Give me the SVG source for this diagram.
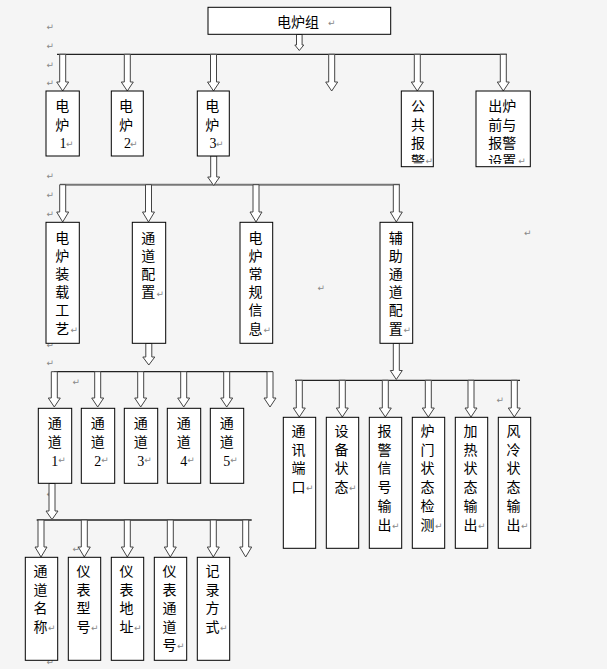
<svg xmlns="http://www.w3.org/2000/svg" width="607" height="669" viewBox="0 0 607 669">
<style>
.bg{fill:#f5f5f5}
.box{fill:#fff;stroke:#000;stroke-width:1}
.t{font-family:"Noto Sans CJK SC","Noto Sans CJK JP",sans-serif;font-size:14px;fill:#000;text-anchor:middle}
.ts{font-family:"Noto Sans CJK SC","Noto Sans CJK JP",sans-serif;font-size:14px;fill:#000}
.d{font-family:"Liberation Serif",serif;font-size:14px;fill:#000}
.pm{font-family:"DejaVu Sans",sans-serif;font-size:9px;fill:#888}
.arr{fill:#fff;stroke:#444;stroke-width:1}
.ln{stroke:#222;stroke-width:1.3;fill:none}
.ln2{stroke:#777;stroke-width:2;fill:none}
</style>
<defs>
<clipPath id="clipTop"><rect x="400" y="90" width="135" height="74"/></clipPath>
</defs>
<rect class="bg" x="0" y="0" width="607" height="669"/>

<g id="marks">
<text class="pm" x="46.5" y="30">↵</text>
<text class="pm" x="46.5" y="48.5">↵</text>
<text class="pm" x="46.5" y="67.5">↵</text>
<text class="pm" x="46.5" y="86">↵</text>
<text class="pm" x="46.5" y="179.3">↵</text>
<text class="pm" x="46.5" y="197.7">↵</text>
<text class="pm" x="46.5" y="216.7">↵</text>
<text class="pm" x="46.5" y="348">↵</text>
<text class="pm" x="46.5" y="365.7">↵</text>
<text class="pm" x="72.5" y="384.7">↵</text>
<text class="pm" x="46.5" y="497">↵</text>
<text class="pm" x="72.5" y="552">↵</text>
<text class="pm" x="46.5" y="665">↵</text>
<text class="pm" x="317.5" y="291.3">↵</text>
<text class="pm" x="524" y="235.5">↵</text>
<text class="pm" x="496.5" y="403">↵</text>
<text class="pm" x="141.5" y="321.8">↵</text>
</g>

<g id="connectors">
<line class="ln" x1="57" y1="54.3" x2="507" y2="54.3"/>
<line class="ln2" x1="60" y1="184.7" x2="400" y2="184.7"/>
<line class="ln" x1="54" y1="371.7" x2="273" y2="371.7"/>
<line class="ln" x1="295" y1="380.3" x2="520" y2="380.3"/>
<line class="ln" x1="36.7" y1="520" x2="251.7" y2="520"/>

<path class="arr" d="M296.5 34.5V45H294.8L299.3 50.5L303.8 45H302.1V34.5Z"/>

<path class="arr" d="M59.7 54.3V82H56.7L62.7 91L68.7 82H65.7V54.3Z"/>
<path class="arr" d="M124.3 54.3V82H121.3L127.3 91L133.3 82H130.3V54.3Z"/>
<path class="arr" d="M210.5 54.3V82H207.5L213.5 91L219.5 82H216.5V54.3Z"/>
<path class="arr" d="M328.7 54.3V82H325.7L331.7 91L337.7 82H334.7V54.3Z"/>
<path class="arr" d="M414.3 54.3V82H411.3L417.3 91L423.3 82H420.3V54.3Z"/>
<path class="arr" d="M500.3 54.3V82H497.3L503.3 91L509.3 82H506.3V54.3Z"/>

<path class="arr" d="M210.7 156V177H207.7L213.7 185.5L219.7 177H216.7V156Z"/>

<path class="arr" d="M59.7 184.7V212H56.7L62.7 222L68.7 212H65.7V184.7Z"/>
<path class="arr" d="M145.5 184.7V212H142.5L148.5 222L154.5 212H151.5V184.7Z"/>
<path class="arr" d="M253 184.7V212H250L256 222L262 212H259V184.7Z"/>
<path class="arr" d="M393.3 184.7V212H390.3L396.3 222L402.3 212H399.3V184.7Z"/>

<path class="arr" d="M145.8 343.3V357H142.8L148.8 365L154.8 357H151.8V343.3Z"/>

<path class="arr" d="M51.3 371.7V398H48.3L54.3 407L60.3 398H57.3V371.7Z"/>
<path class="arr" d="M94.7 371.7V398H91.7L97.7 407L103.7 398H100.7V371.7Z"/>
<path class="arr" d="M137.7 371.7V398H134.7L140.7 407L146.7 398H143.7V371.7Z"/>
<path class="arr" d="M180.7 371.7V398H177.7L183.7 407L189.7 398H186.7V371.7Z"/>
<path class="arr" d="M223.7 371.7V398H220.7L226.7 407L232.7 398H229.7V371.7Z"/>
<path class="arr" d="M267 371.7V398H264L270 407L276 398H273V371.7Z"/>

<path class="arr" d="M393.3 343.3V370.5H390.3L396.3 379.5L402.3 370.5H399.3V343.3Z"/>

<path class="arr" d="M296.3 380.3V408H293.3L299.3 417L305.3 408H302.3V380.3Z"/>
<path class="arr" d="M339.3 380.3V408H336.3L342.3 417L348.3 408H345.3V380.3Z"/>
<path class="arr" d="M382.3 380.3V408H379.3L385.3 417L391.3 408H388.3V380.3Z"/>
<path class="arr" d="M425.3 380.3V408H422.3L428.3 417L434.3 408H431.3V380.3Z"/>
<path class="arr" d="M468 380.3V408H465L471 417L477 408H474V380.3Z"/>
<path class="arr" d="M511.3 380.3V408H508.3L514.3 417L520.3 408H517.3V380.3Z"/>

<path class="arr" d="M49 483.5V511H46L52 519.5L58 511H55V483.5Z"/>

<path class="arr" d="M38 520V547H35L41 557L47 547H44V520Z"/>
<path class="arr" d="M81.3 520V547H78.3L84.3 557L90.3 547H87.3V520Z"/>
<path class="arr" d="M124.3 520V547H121.3L127.3 557L133.3 547H130.3V520Z"/>
<path class="arr" d="M167.3 520V547H164.3L170.3 557L176.3 547H173.3V520Z"/>
<path class="arr" d="M210.3 520V547H207.3L213.3 557L219.3 547H216.3V520Z"/>
<path class="arr" d="M242.7 520V547H239.7L245.7 557L251.7 547H248.7V520Z"/>
</g>

<g id="n-group">
<rect class="box" x="208" y="7.3" width="182.7" height="27"/>
<text class="ts" x="277" y="26.7">电炉组</text>
<text class="pm" x="328" y="25.7">↵</text>
</g>

<g id="n-furnace1">
<rect class="box" x="46" y="91" width="33.3" height="65"/>
<text class="t"><tspan x="62.2" y="111.3">电</tspan><tspan x="62.2" y="130">炉</tspan></text>
<text class="d" x="59.5" y="148">1</text>
<text class="pm" x="66" y="146.5">↵</text>
</g>

<g id="n-furnace2">
<rect class="box" x="111.3" y="91" width="32" height="65"/>
<text class="t"><tspan x="126" y="111.3">电</tspan><tspan x="126" y="130">炉</tspan></text>
<text class="d" x="124" y="148">2</text>
<text class="pm" x="130" y="146.5">↵</text>
</g>

<g id="n-furnace3">
<rect class="box" x="197.3" y="91" width="32" height="65"/>
<text class="t"><tspan x="212.3" y="111.3">电</tspan><tspan x="212.3" y="130">炉</tspan></text>
<text class="d" x="209.5" y="148">3</text>
<text class="pm" x="216" y="146.5">↵</text>
</g>

<g id="n-public-alarm">
<rect class="box" x="401.3" y="91" width="32" height="75.7"/>
<g clip-path="url(#clipTop)">
<text class="t"><tspan x="418" y="111.3">公</tspan><tspan x="418" y="129.6">共</tspan><tspan x="418" y="147.9">报</tspan><tspan x="418" y="166.3">警</tspan></text>
<text class="pm" x="425.5" y="164">↵</text>
</g>
</g>

<g id="n-pre-alarm">
<rect class="box" x="476" y="91" width="54.3" height="75.7"/>
<g clip-path="url(#clipTop)">
<text class="ts"><tspan x="488.3" y="111.3">出炉</tspan><tspan x="488.3" y="129.6">前与</tspan><tspan x="488.3" y="147.9">报警</tspan><tspan x="488.3" y="166.3">设置</tspan></text>
<text class="pm" x="518.3" y="164">↵</text>
</g>
</g>

<g id="n-load-process">
<rect class="box" x="46" y="222.3" width="33.3" height="121"/>
<text class="t"><tspan x="62.2" y="243">电</tspan><tspan x="62.2" y="261.1">炉</tspan><tspan x="62.2" y="279.2">装</tspan><tspan x="62.2" y="297.3">载</tspan><tspan x="62.2" y="315.4">工</tspan><tspan x="62.2" y="333.5">艺</tspan></text>
<text class="pm" x="70.5" y="333">↵</text>
</g>

<g id="n-channel-config">
<rect class="box" x="132.3" y="222.3" width="33.4" height="121"/>
<text class="t"><tspan x="148.3" y="243">通</tspan><tspan x="148.3" y="261.1">道</tspan><tspan x="148.3" y="279.2">配</tspan><tspan x="148.3" y="297.3">置</tspan></text>
<text class="pm" x="156.5" y="297">↵</text>
</g>

<g id="n-general-info">
<rect class="box" x="240" y="222.3" width="32.7" height="121"/>
<text class="t"><tspan x="255.5" y="243">电</tspan><tspan x="255.5" y="261.1">炉</tspan><tspan x="255.5" y="279.2">常</tspan><tspan x="255.5" y="297.3">规</tspan><tspan x="255.5" y="315.4">信</tspan><tspan x="255.5" y="333.5">息</tspan></text>
<text class="pm" x="263.5" y="333">↵</text>
</g>

<g id="n-aux-config">
<rect class="box" x="380" y="222.3" width="32.7" height="121"/>
<text class="t"><tspan x="395.8" y="243">辅</tspan><tspan x="395.8" y="261.1">助</tspan><tspan x="395.8" y="279.2">通</tspan><tspan x="395.8" y="297.3">道</tspan><tspan x="395.8" y="315.4">配</tspan><tspan x="395.8" y="333.5">置</tspan></text>
<text class="pm" x="403.5" y="333">↵</text>
</g>

<g id="n-ch1">
<rect class="box" x="38.3" y="408.3" width="33.4" height="75"/>
<text class="t"><tspan x="54.7" y="427.7">通</tspan><tspan x="54.7" y="446.7">道</tspan></text>
<text class="d" x="51.3" y="466">1</text>
<text class="pm" x="58.3" y="463">↵</text>
</g>
<g id="n-ch2">
<rect class="box" x="81.3" y="408.3" width="33.4" height="75"/>
<text class="t"><tspan x="97.7" y="427.7">通</tspan><tspan x="97.7" y="446.7">道</tspan></text>
<text class="d" x="94.2" y="466">2</text>
<text class="pm" x="101.2" y="463">↵</text>
</g>
<g id="n-ch3">
<rect class="box" x="124.3" y="408.3" width="33.4" height="75"/>
<text class="t"><tspan x="140.7" y="427.7">通</tspan><tspan x="140.7" y="446.7">道</tspan></text>
<text class="d" x="137.2" y="466">3</text>
<text class="pm" x="144.2" y="463">↵</text>
</g>
<g id="n-ch4">
<rect class="box" x="167.3" y="408.3" width="33.4" height="75"/>
<text class="t"><tspan x="183.7" y="427.7">通</tspan><tspan x="183.7" y="446.7">道</tspan></text>
<text class="d" x="180.2" y="466">4</text>
<text class="pm" x="187.2" y="463">↵</text>
</g>
<g id="n-ch5">
<rect class="box" x="210.3" y="408.3" width="33.4" height="75"/>
<text class="t"><tspan x="226.7" y="427.7">通</tspan><tspan x="226.7" y="446.7">道</tspan></text>
<text class="d" x="223.2" y="466">5</text>
<text class="pm" x="230.2" y="463">↵</text>
</g>

<g id="n-comm-port">
<rect class="box" x="283.3" y="417.3" width="32.4" height="131"/>
<text class="t"><tspan x="298.5" y="436">通</tspan><tspan x="298.5" y="454.7">讯</tspan><tspan x="298.5" y="473.4">端</tspan><tspan x="298.5" y="492.1">口</tspan></text>
<text class="pm" x="306" y="491">↵</text>
</g>
<g id="n-device-status">
<rect class="box" x="326.3" y="417.3" width="32.4" height="131"/>
<text class="t"><tspan x="341.5" y="436">设</tspan><tspan x="341.5" y="454.7">备</tspan><tspan x="341.5" y="473.4">状</tspan><tspan x="341.5" y="492.1">态</tspan></text>
<text class="pm" x="349" y="491">↵</text>
</g>
<g id="n-alarm-out">
<rect class="box" x="369.3" y="417.3" width="32.4" height="131"/>
<text class="t"><tspan x="384.5" y="436">报</tspan><tspan x="384.5" y="454.7">警</tspan><tspan x="384.5" y="473.4">信</tspan><tspan x="384.5" y="492.1">号</tspan><tspan x="384.5" y="510.8">输</tspan><tspan x="384.5" y="529.5">出</tspan></text>
<text class="pm" x="392" y="529">↵</text>
</g>
<g id="n-door-detect">
<rect class="box" x="412.3" y="417.3" width="32.4" height="131"/>
<text class="t"><tspan x="427.5" y="436">炉</tspan><tspan x="427.5" y="454.7">门</tspan><tspan x="427.5" y="473.4">状</tspan><tspan x="427.5" y="492.1">态</tspan><tspan x="427.5" y="510.8">检</tspan><tspan x="427.5" y="529.5">测</tspan></text>
<text class="pm" x="435" y="529">↵</text>
</g>
<g id="n-heat-out">
<rect class="box" x="455.3" y="417.3" width="32.4" height="131"/>
<text class="t"><tspan x="470.5" y="436">加</tspan><tspan x="470.5" y="454.7">热</tspan><tspan x="470.5" y="473.4">状</tspan><tspan x="470.5" y="492.1">态</tspan><tspan x="470.5" y="510.8">输</tspan><tspan x="470.5" y="529.5">出</tspan></text>
<text class="pm" x="478" y="529">↵</text>
</g>
<g id="n-cool-out">
<rect class="box" x="498.3" y="417.3" width="32.4" height="131"/>
<text class="t"><tspan x="513.5" y="436">风</tspan><tspan x="513.5" y="454.7">冷</tspan><tspan x="513.5" y="473.4">状</tspan><tspan x="513.5" y="492.1">态</tspan><tspan x="513.5" y="510.8">输</tspan><tspan x="513.5" y="529.5">出</tspan></text>
<text class="pm" x="521" y="529">↵</text>
</g>

<g id="n-ch-name">
<rect class="box" x="25.3" y="557.3" width="32.4" height="103"/>
<text class="t"><tspan x="40.5" y="576">通</tspan><tspan x="40.5" y="594.6">道</tspan><tspan x="40.5" y="613.2">名</tspan><tspan x="40.5" y="631.8">称</tspan></text>
<text class="pm" x="48" y="630.5">↵</text>
</g>
<g id="n-meter-model">
<rect class="box" x="68.3" y="557.3" width="32.4" height="103"/>
<text class="t"><tspan x="83.5" y="576">仪</tspan><tspan x="83.5" y="594.6">表</tspan><tspan x="83.5" y="613.2">型</tspan><tspan x="83.5" y="631.8">号</tspan></text>
<text class="pm" x="91" y="630.5">↵</text>
</g>
<g id="n-meter-addr">
<rect class="box" x="111.3" y="557.3" width="32.4" height="103"/>
<text class="t"><tspan x="126.5" y="576">仪</tspan><tspan x="126.5" y="594.6">表</tspan><tspan x="126.5" y="613.2">地</tspan><tspan x="126.5" y="631.8">址</tspan></text>
<text class="pm" x="134" y="630.5">↵</text>
</g>
<g id="n-meter-ch">
<rect class="box" x="154.3" y="557.3" width="32.4" height="103"/>
<text class="t"><tspan x="169.5" y="576">仪</tspan><tspan x="169.5" y="594.6">表</tspan><tspan x="169.5" y="613.2">通</tspan><tspan x="169.5" y="631.8">道</tspan><tspan x="169.5" y="650.4">号</tspan></text>
<text class="pm" x="177" y="649">↵</text>
</g>
<g id="n-record-mode">
<rect class="box" x="197.3" y="557.3" width="32.4" height="103"/>
<text class="t"><tspan x="212.5" y="576">记</tspan><tspan x="212.5" y="594.6">录</tspan><tspan x="212.5" y="613.2">方</tspan><tspan x="212.5" y="631.8">式</tspan></text>
<text class="pm" x="220" y="630.5">↵</text>
</g>
</svg>
